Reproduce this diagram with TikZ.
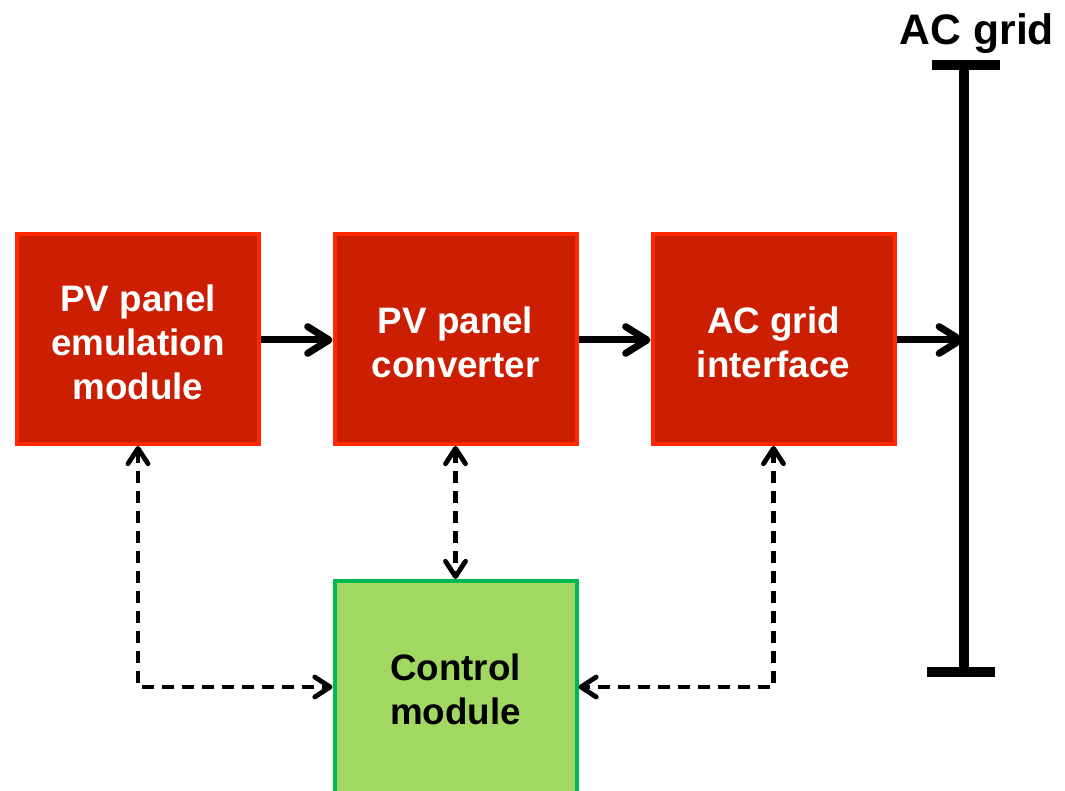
\documentclass[tikz,border=0pt]{standalone}
\usepackage{fontspec}
\setmainfont{Liberation Sans}
\usetikzlibrary{arrows.meta}
\definecolor{boxred}{RGB}{204,30,0}
\definecolor{boxredline}{RGB}{255,40,0}
\definecolor{ctlgreen}{RGB}{160,216,98}
\definecolor{ctlgreenline}{RGB}{0,184,84}
\tikzset{
  block/.style={draw=boxredline, fill=boxred, line width=3pt, minimum width=181.5pt, minimum height=157.5pt, inner sep=0pt},
  ctlblock/.style={block, draw=ctlgreenline, fill=ctlgreen, minimum height=162.75pt},
  lbl/.style={text=white, font=\bfseries\fontsize{27.6}{33}\selectfont, align=center, inner sep=0pt},
  ctllbl/.style={lbl, text=black},
  flow/.style={line width=5.25pt, -{Straight Barb[length=16pt,width=20pt,round]}},
  sig/.style={line width=3.6pt, dash pattern=on 9pt off 6pt, {Straight Barb[length=11.5pt,width=15pt,round]}-{Straight Barb[length=11.5pt,width=15pt,round]}},
  bus/.style={line width=7.5pt},
}
\begin{document}
\begin{tikzpicture}[x=0.75pt,y=-0.75pt]
\useasboundingbox (0,0) rectangle (1065,791);
\clip (0,0) rectangle (1065,791);
\node[block] (b1) at (138,339) {};
\node[block] (b2) at (455.5,339) {};
\node[block] (b3) at (773.5,339) {};
\node[ctlblock] (ctl) at (455.5,689.5) {};
\node[lbl] (t1) at (138,342) {PV panel\\emulation\\module};
\node[lbl] (t2) at (455.5,342) {PV panel\\converter};
\node[lbl] (t3) at (773.5,342) {AC grid\\interface};
\node[ctllbl] (t4) at (455.5,689) {Control\\module};
\coordinate (lvl) at (0,687);
\coordinate (arrowlvl) at (0,340);
\coordinate (bustop) at (964,65);
\coordinate (busbot) at (964,672);
\coordinate (busin) at (964,340);
\coordinate (tl) at (932,65);
\coordinate (tr) at (1000,65);
\coordinate (bl) at (927,672);
\coordinate (br) at (995,672);
\draw[bus] (bustop) -- (busbot);
\draw[bus] (tl) -- (tr);
\draw[bus] (bl) -- (br);
\node[font=\bfseries\fontsize{32}{38}\selectfont, anchor=base, inner sep=0pt] (grid) at (977,45) {AC grid};
\draw[flow] (b1.east |- arrowlvl) -- (b2.west |- arrowlvl);
\draw[flow] (b2.east |- arrowlvl) -- (b3.west |- arrowlvl);
\draw[flow] (b3.east |- arrowlvl) -- (busin);
\draw[sig] (b1.south) |- (ctl.west |- lvl);
\draw[sig] (b2.south) -- (ctl.north);
\draw[sig] (b3.south) |- (ctl.east |- lvl);
\end{tikzpicture}
\end{document}
